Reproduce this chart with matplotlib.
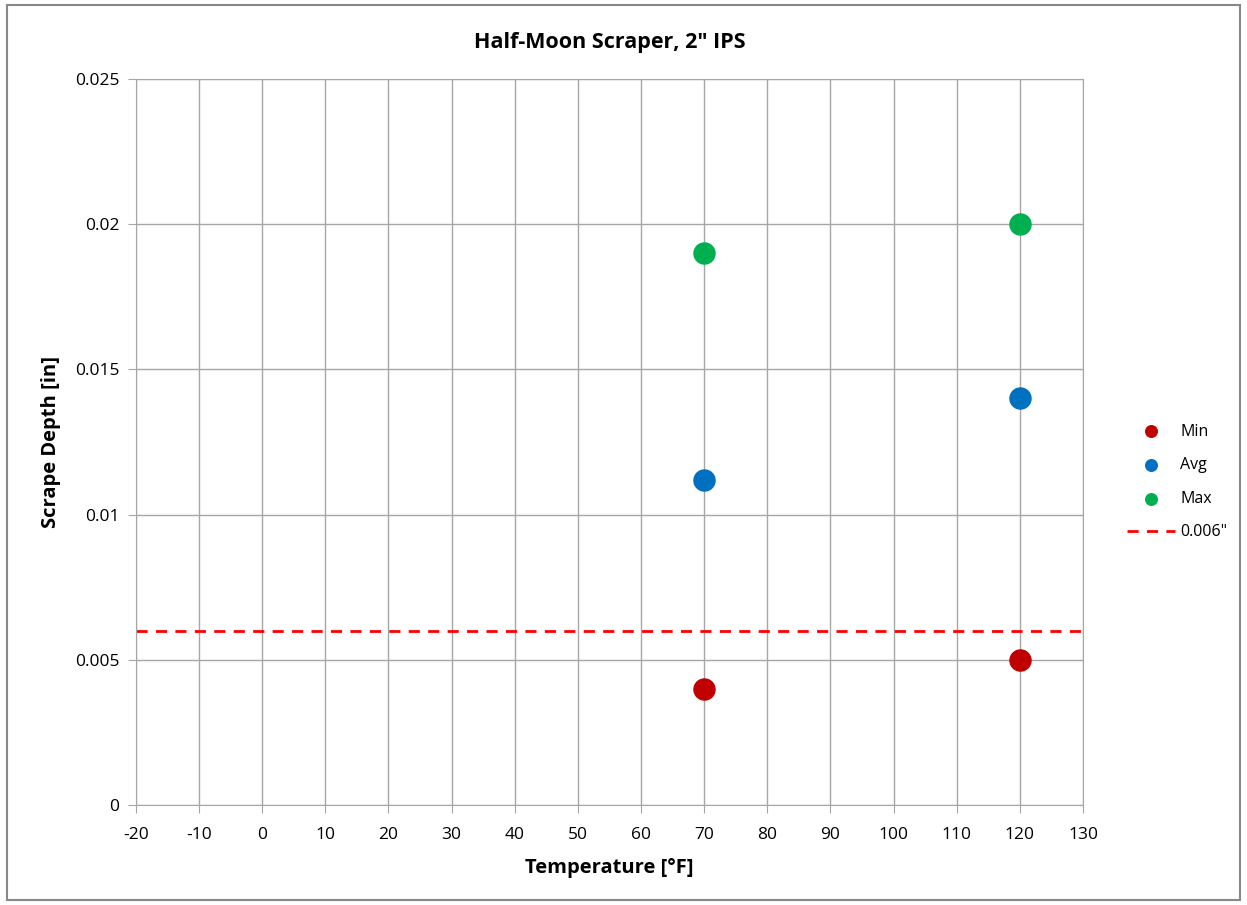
import matplotlib
matplotlib.use("Agg")
import matplotlib.pyplot as plt
from matplotlib.patches import Rectangle

# data
temps = [70, 120]
depth_min = [0.004, 0.005]
depth_avg = [0.0112, 0.014]
depth_max = [0.019, 0.020]
threshold = 0.006

x_ticks = list(range(-20, 131, 10))
y_ticks = [0, 0.005, 0.01, 0.015, 0.02, 0.025]
y_labels = ["0", "0.005", "0.01", "0.015", "0.02", "0.025"]

plt.rcParams["font.family"] = ["Open Sans", "DejaVu Sans"]
plt.rcParams["axes.unicode_minus"] = False
grid_c = "#A6A6A6"

fig = plt.figure(figsize=(12.47, 9.05), dpi=100)
ax = fig.add_axes([0.109, 0.1105, 0.7595, 0.8022])

ax.scatter(temps, depth_min, s=230, color="#C00000", label="Min", zorder=3)
ax.scatter(temps, depth_avg, s=230, color="#0070C0", label="Avg", zorder=3)
ax.scatter(temps, depth_max, s=230, color="#00B050", label="Max", zorder=3)
ax.axhline(threshold, color="#FF0000", ls=(0, (4, 3)), lw=2, label='0.006"', zorder=2)

ax.set_xlim(-20, 130)
ax.set_ylim(0, 0.025)
ax.set_xticks(x_ticks)
ax.set_yticks(y_ticks)
ax.set_yticklabels(y_labels)
ax.grid(True, color=grid_c, lw=1)
ax.set_axisbelow(True)
for s in ax.spines.values():
    s.set_color(grid_c)
ax.tick_params(direction="out", length=6, color=grid_c, labelsize=12.5)
ax.tick_params(axis="x", pad=10)
ax.tick_params(axis="y", pad=6)

ax.set_xlabel("Temperature [°F]", fontsize=14.5, fontweight="bold", labelpad=11)
ax.set_ylabel("Scrape Depth [in]", fontsize=14.5, fontweight="bold", labelpad=10)
ax.set_title('Half-Moon Scraper, 2" IPS', fontsize=15.5, fontweight="bold", pad=22)

leg = ax.legend(loc="center left", bbox_to_anchor=(1.031, 0.445), frameon=False,
                fontsize=11.5, markerscale=0.55, handlelength=3.0, labelspacing=1.1,
                handletextpad=0.35)

fig.patches.append(Rectangle((0.006, 0.006), 0.988, 0.988, transform=fig.transFigure,
                             fill=False, edgecolor="#888888", lw=1.5))

fig.savefig("out.png", dpi=100)
